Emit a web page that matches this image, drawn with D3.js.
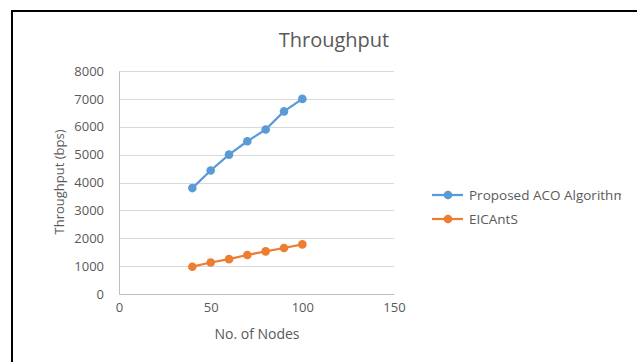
<!DOCTYPE html>
<html>
<head>
<meta charset="utf-8">
<script src="https://cdn.jsdelivr.net/npm/d3@7"></script>
<style>
  html, body { margin: 0; padding: 0; background: #fff; }
  svg { display: block; }
  text { font-family: "Open Sans", sans-serif; fill: #595959; }
</style>
</head>
<body>
<svg id="chart" width="637" height="362"></svg>
<script>
// Number of nodes in the network
const nodes = [40, 50, 60, 70, 80, 90, 100];
// Throughput (bps) per series
const acoThroughput = [3800, 4430, 5000, 5480, 5900, 6550, 7000];
const eicantsThroughput = [980, 1130, 1250, 1400, 1530, 1650, 1780];
const seriesNames = ["Proposed ACO Algorithm", "EICAntS"];
const seriesColors = ["#5B9BD5", "#ED7D31"];
const xTicks = [0, 50, 100, 150];
const yTicks = [0, 1000, 2000, 3000, 4000, 5000, 6000, 7000, 8000];

const series = [
  { name: seriesNames[0], color: seriesColors[0], values: acoThroughput },
  { name: seriesNames[1], color: seriesColors[1], values: eicantsThroughput }
];

const svg = d3.select("#chart");

// outer frame (top and left edges visible)
svg.append("path")
  .attr("d", "M12,362 L12,11 L637,11")
  .attr("fill", "none")
  .attr("stroke", "#000")
  .attr("stroke-width", 2);

const plot = { left: 119, right: 394, top: 71, bottom: 294 };

const x = d3.scaleLinear().domain([0, 150]).range([plot.left, plot.right]);
const y = d3.scaleLinear().domain([0, 8000]).range([plot.bottom, plot.top]);

// horizontal gridlines
svg.append("g")
  .selectAll("line")
  .data(yTicks.filter(d => d > 0))
  .join("line")
  .attr("x1", plot.left).attr("x2", plot.right)
  .attr("y1", d => Math.round(y(d)) + 0.5).attr("y2", d => Math.round(y(d)) + 0.5)
  .attr("stroke", "#D9D9D9").attr("stroke-width", 1);

// y axis
const yAxis = svg.append("g")
  .attr("transform", `translate(${plot.left},0)`)
  .call(d3.axisLeft(y).tickValues(yTicks).tickFormat(d3.format("d")).tickSize(0).tickPadding(15));
yAxis.select(".domain").attr("stroke", "#BFBFBF");
yAxis.selectAll("text").style("font-size", "13px").attr("fill", "#595959").style("font-family", "'Open Sans', sans-serif");

// x axis
const xAxis = svg.append("g")
  .attr("transform", `translate(0,${plot.bottom})`)
  .call(d3.axisBottom(x).tickValues(xTicks).tickFormat(d3.format("d")).tickSize(0).tickPadding(9));
xAxis.select(".domain").attr("stroke", "#BFBFBF");
xAxis.selectAll("text").style("font-size", "13px").attr("fill", "#595959").style("font-family", "'Open Sans', sans-serif");

// series lines and markers
const line = d3.line().x((d, i) => x(nodes[i])).y(d => y(d));
series.forEach(s => {
  svg.append("path")
    .datum(s.values)
    .attr("d", line)
    .attr("fill", "none")
    .attr("stroke", s.color)
    .attr("stroke-width", 2.25)
    .attr("stroke-linejoin", "round");
  svg.append("g")
    .selectAll("circle")
    .data(s.values)
    .join("circle")
    .attr("cx", (d, i) => x(nodes[i]))
    .attr("cy", d => y(d))
    .attr("r", 4.3)
    .attr("fill", s.color);
});

// title
svg.append("text")
  .attr("x", 334).attr("y", 47)
  .attr("text-anchor", "middle")
  .style("font-size", "20px")
  .text("Throughput");

// axis titles
svg.append("text")
  .attr("x", 257).attr("y", 339)
  .attr("text-anchor", "middle")
  .style("font-size", "14px")
  .text("No. of Nodes");

svg.append("text")
  .attr("transform", `translate(64,182) rotate(-90)`)
  .attr("text-anchor", "middle")
  .style("font-size", "13px")
  .text("Throughput (bps)");

// legend, clipped at the chart's right edge
svg.append("clipPath").attr("id", "legendClip")
  .append("rect").attr("x", 400).attr("y", 150).attr("width", 221).attr("height", 120);

const legend = svg.append("g").attr("clip-path", "url(#legendClip)");
const legendRows = legend.selectAll("g")
  .data(series)
  .join("g")
  .attr("transform", (d, i) => `translate(432,${195 + i * 24})`);
legendRows.append("line")
  .attr("x1", 0).attr("x2", 31)
  .attr("stroke", d => d.color).attr("stroke-width", 2.25);
legendRows.append("circle")
  .attr("cx", 16).attr("r", 4.3)
  .attr("fill", d => d.color);
legendRows.append("text")
  .attr("x", 37).attr("dy", "0.35em")
  .style("font-size", "13.5px")
  .text(d => d.name);
</script>
</body>
</html>
